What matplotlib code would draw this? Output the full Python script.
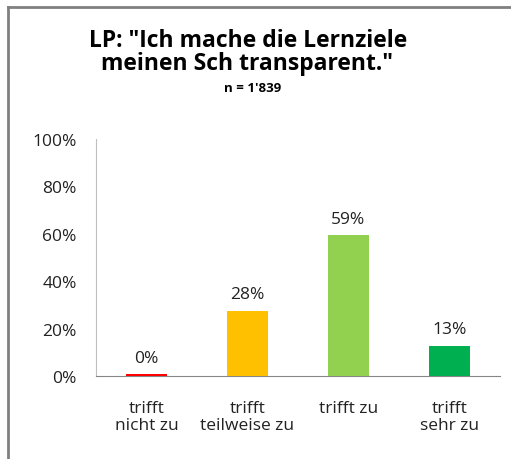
import numpy as np
import matplotlib.pyplot as plt
from matplotlib.lines import Line2D

categories = ['trifft\nnicht zu', 'trifft\nteilweise zu', 'trifft zu', 'trifft\nsehr zu']
values = [0.8, 27.5, 59.3, 12.8]
labels = ['0%', '28%', '59%', '13%']
colors = ['#FF0000', '#FFC000', '#92D050', '#00B050']

plt.rcParams['font.family'] = ['Open Sans', 'DejaVu Sans']

fig = plt.figure(figsize=(5.11, 4.6), dpi=100)
ax = fig.add_axes([96/511, 83/460, 404/511, 237/460])

x = np.arange(len(categories))
ax.bar(x, values, width=0.4, color=colors, linewidth=0, zorder=3)
for xi, v, lab in zip(x, values, labels):
    ax.annotate(lab, (xi, v), xytext=(0, 6), textcoords='offset points',
                ha='center', va='bottom', fontsize=12.5, color='#222222')

ax.set_xlim(-0.5, len(categories) - 0.5)
ax.set_ylim(0, 100)
ax.set_yticks(np.arange(0, 101, 20))
ax.set_yticklabels([f'{t}%' for t in range(0, 101, 20)])
ax.set_xticks(x)
ax.set_xticklabels(categories, linespacing=1.15)
ax.tick_params(axis='y', length=0, pad=14, labelsize=12.5, labelcolor='#222222')
ax.tick_params(axis='x', length=0, pad=17, labelsize=12.5, labelcolor='#222222')
for s in ['top', 'right']:
    ax.spines[s].set_visible(False)
ax.spines['left'].set_color('#BFBFBF')
ax.spines['bottom'].set_color('#868686')

fig.text(248/511, 1 - 47/460, 'LP: "Ich mache die Lernziele',
         ha='center', va='baseline', fontsize=16.5, fontweight='bold')
fig.text(247/511, 1 - 70/460, 'meinen Sch transparent."',
         ha='center', va='baseline', fontsize=16.5, fontweight='bold')
fig.text(253/511, 1 - 92/460, "n = 1'839", ha='center', va='baseline', fontsize=9.5, fontweight='bold')

# outer frame
fig.add_artist(Line2D([8/511, 1], [1 - 8/460, 1 - 8/460], color='#808080', lw=2, transform=fig.transFigure))
fig.add_artist(Line2D([8/511, 8/511], [0, 1 - 8/460], color='#808080', lw=2, transform=fig.transFigure))

fig.savefig('out.png', dpi=100)
